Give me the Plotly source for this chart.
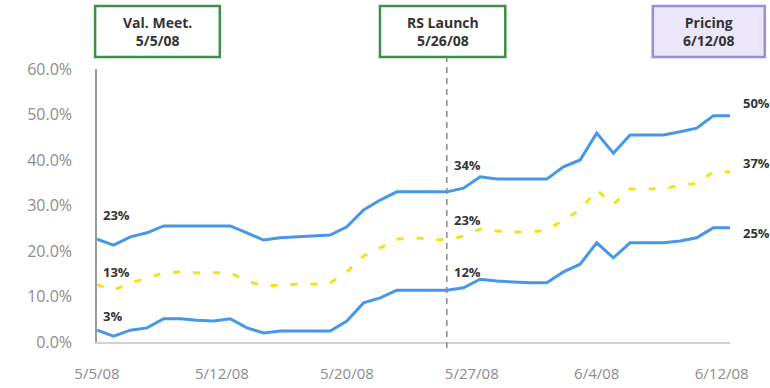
import pandas as pd
import plotly.graph_objects as go

# Daily observations, 5/5/08 through 6/12/08
dates = pd.date_range("2008-05-05", "2008-06-12", freq="D")

upper = [22.6, 21.3, 23.1, 24.0, 25.5, 25.5, 25.5, 25.5, 25.5, 24.0,
         22.4, 22.9, 23.1, 23.3, 23.5, 25.3, 29.0, 31.2, 33.0, 33.0,
         33.0, 33.0, 33.8, 36.3, 35.8, 35.8, 35.8, 35.8, 38.5, 40.0,
         45.9, 41.5, 45.5, 45.5, 45.5, 46.2, 47.0, 49.7, 49.7]
middle = [12.6, 11.4, 13.0, 14.0, 15.2, 15.4, 15.2, 15.2, 15.2, 13.4,
          12.3, 12.5, 12.7, 12.7, 13.0, 15.4, 18.9, 20.7, 22.6, 22.9,
          22.6, 22.4, 23.3, 24.8, 24.4, 24.2, 24.2, 24.6, 26.8, 29.0,
          33.4, 30.3, 33.6, 33.6, 33.8, 34.3, 34.9, 37.4, 37.4]
lower = [2.6, 1.3, 2.6, 3.1, 5.1, 5.1, 4.8, 4.6, 5.1, 3.1,
         2.0, 2.4, 2.4, 2.4, 2.4, 4.6, 8.6, 9.7, 11.4, 11.4,
         11.4, 11.4, 11.9, 13.8, 13.4, 13.2, 13.0, 13.0, 15.4, 17.1,
         21.8, 18.5, 21.8, 21.8, 21.8, 22.2, 22.9, 25.1, 25.1]

tick_dates = ["2008-05-05", "2008-05-12 12:00", "2008-05-20",
              "2008-05-27 12:00", "2008-06-04", "2008-06-11 12:00"]
tick_text = ["5/5/08", "5/12/08", "5/20/08", "5/27/08", "6/4/08", "6/12/08"]
y_ticks = [0, 10, 20, 30, 40, 50, 60]
y_tick_text = [f"{v:.1f}%" for v in y_ticks]

events = [
    ("Val. Meet.", "5/5/08"),
    ("RS Launch", "5/26/08"),
    ("Pricing", "6/12/08"),
]
launch_date = "2008-05-26"

# indices of points carrying value labels: start, after launch, end
label_idx = [0, 22, len(dates) - 1]

BLUE = "#4797e6"
YELLOW = "#f2e21c"
TICK_FONT = dict(family="Open Sans", size=16, color="#8c8c8c")
X_TICK_FONT = dict(family="Open Sans", size=15, color="#8c8c8c")
LABEL_FONT = dict(family="Open Sans", size=13, color="#333333")

fig = go.Figure()
fig.add_trace(go.Scatter(x=dates, y=upper, mode="lines",
                         line=dict(color=BLUE, width=3), hoverinfo="skip"))
fig.add_trace(go.Scatter(x=dates, y=lower, mode="lines",
                         line=dict(color=BLUE, width=3), hoverinfo="skip"))
fig.add_trace(go.Scatter(x=dates, y=middle, mode="lines",
                         line=dict(color=YELLOW, width=3, dash="7px,13px"),
                         hoverinfo="skip"))

# value labels: (series, y offset in px) per label position
offsets = {
    0: [(upper, 24), (middle, 13), (lower, 14)],
    22: [(upper, 23), (middle, 16), (lower, 16)],
    len(dates) - 1: [(upper, 13), (middle, 9), (lower, -5)],
}
xshift = {0: 4, 22: -11, len(dates) - 1: 11}
for i in label_idx:
    for series, dy in offsets[i]:
        fig.add_annotation(x=dates[i], y=series[i], xref="x", yref="y",
                           text=f"<b>{series[i]:.0f}%</b>", showarrow=False,
                           xanchor="left", yanchor="middle",
                           xshift=xshift[i], yshift=dy, font=LABEL_FONT)

# event boxes above the plot (paper coordinates)
box_x = [(-0.003, 0.194), (0.447, 0.645), (0.878, 1.055)]
box_style = [
    dict(line=dict(color="#3f8f4c", width=2.5), fillcolor="white"),
    dict(line=dict(color="#3f8f4c", width=2.5), fillcolor="white"),
    dict(line=dict(color="#9b8cd6", width=2.5), fillcolor="#ebe6fa"),
]
for (x0, x1), style, (title, day) in zip(box_x, box_style, events):
    fig.add_shape(type="rect", xref="paper", yref="paper",
                  x0=x0, x1=x1, y0=1.044, y1=1.231, **style)
    fig.add_annotation(x=(x0 + x1) / 2, y=1.137, xref="paper", yref="paper",
                       text=f"<b>{title}<br>{day}</b>", showarrow=False,
                       xanchor="center", yanchor="middle",
                       font=dict(family="Open Sans", size=14, color="#333333"))

# launch marker
fig.add_shape(type="line", xref="x", yref="paper",
              x0=launch_date, x1=launch_date, y0=-0.022, y1=1.04,
              line=dict(color="#8a8a8a", width=1.5, dash="6px,5px"))

fig.update_layout(
    width=770, height=388,
    margin=dict(l=97, r=40, t=69, b=46),
    paper_bgcolor="white", plot_bgcolor="white",
    showlegend=False,
    xaxis=dict(type="date", range=[dates[0], dates[-1]],
               tickvals=tick_dates, ticktext=tick_text,
               showgrid=False, zeroline=False, automargin=False,
               showline=True, linecolor="#d2d2d2", linewidth=2,
               ticks="", ticklabelstandoff=17, tickfont=X_TICK_FONT),
    yaxis=dict(range=[0, 60], tickvals=y_ticks, ticktext=y_tick_text,
               showgrid=False, zeroline=False, automargin=False,
               showline=True, linecolor="#9c9c9c", linewidth=1.5,
               ticks="", ticklabelstandoff=20, tickfont=TICK_FONT),
)

fig.write_html("out.html")
